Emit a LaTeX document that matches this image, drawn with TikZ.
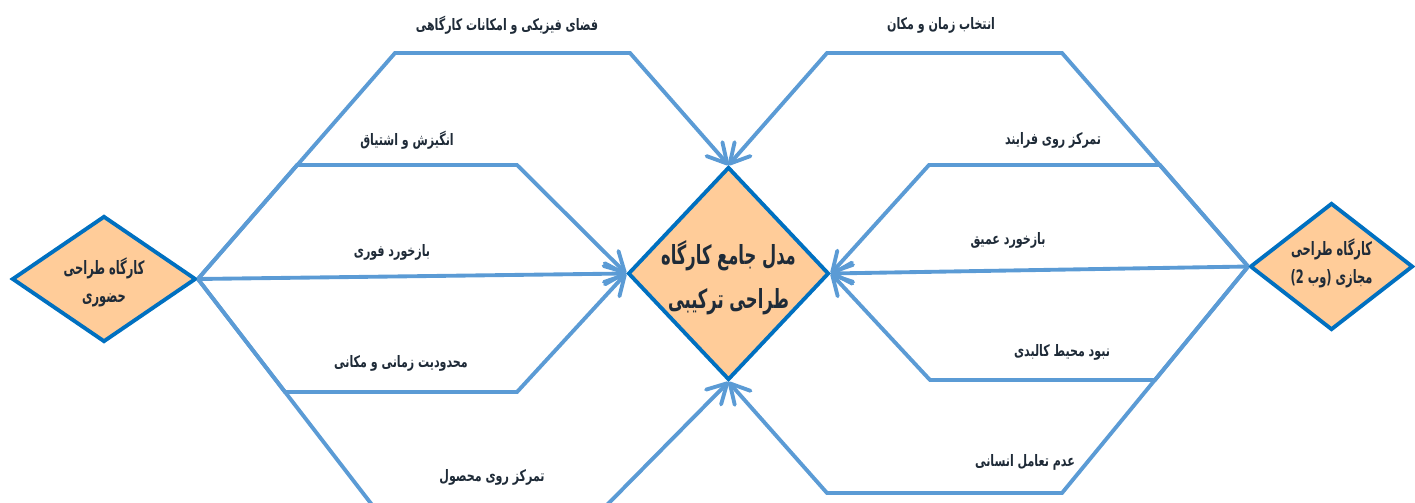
\documentclass[tikz,border=0pt]{standalone}
\usepackage{fontspec}
\newfontfamily\labelfont[Script=Arabic,FakeStretch=0.7]{DejaVu Sans}
\newfontfamily\boxfont[Script=Arabic,FakeStretch=0.62]{DejaVu Sans}
\newfontfamily\digitfont[FakeStretch=0.62]{DejaVu Sans}
\TeXXeTstate=1
\usetikzlibrary{shapes.geometric,arrows.meta}
\definecolor{linkblue}{HTML}{5B9BD5}
\definecolor{edgeblue}{HTML}{0070C0}
\definecolor{peach}{HTML}{FFCC99}
\definecolor{inkdark}{HTML}{1F2B38}
\begin{document}
\begin{tikzpicture}
  [x=0.02cm,y=-0.02cm,
   every node/.style={text=inkdark},
   lbl/.style={font=\labelfont\bfseries\fontsize{9}{11}\selectfont},
   box/.style={diamond,draw=edgeblue,fill=peach,line width=2.2pt,inner sep=-3pt,align=center,
     font=\boxfont\bfseries\fontsize{10.5}{16}\selectfont},
   link/.style={draw=linkblue,line width=2.2pt},
   tip/.style={-{Straight Barb[length=11pt,width=12pt,round]}}]
  \useasboundingbox (0,0) rectangle (1415,503);

  % diamonds
  \node[box,aspect=1.46,minimum width=3.68cm,minimum height=2.52cm] (d1) at (104,279)
    {\hbox{\rule{0pt}{13.6pt}\beginR کارگاه طراحی\endR}\\\hbox{\beginR حضوری\endR}};
  \node[box,aspect=0.94,minimum width=4.02cm,minimum height=4.26cm,
    font=\boxfont\bfseries\fontsize{15}{25}\selectfont] (d2) at (728.5,273.5)
    {\hbox{\rule{0pt}{18.4pt}\beginR مدل جامع کارگاه\endR}\\\hbox{\beginR طراحی ترکیبی\endR}};
  \node[box,aspect=1.28,minimum width=3.26cm,minimum height=2.54cm] (d3) at (1331.5,266.5)
    {\hbox{\beginR کارگاه طراحی\endR}\\
     \hbox{\rule[-6.5pt]{0pt}{1pt}{\digitfont(2}~\hbox{\beginR وب\endR}{\digitfont)}~\hbox{\beginR مجازی\endR}}};

  % bends of the connectors
  \coordinate (a1) at (395,53);  \coordinate (a2) at (630,53);
  \coordinate (b1) at (297,165); \coordinate (b2) at (517,165);
  \coordinate (c1) at (285,392); \coordinate (c2) at (517,392);
  \coordinate (e1) at (376,510); \coordinate (e2) at (602,510);
  \coordinate (f1) at (1062,53); \coordinate (f2) at (827,53);
  \coordinate (g1) at (1160,165); \coordinate (g2) at (929,165);
  \coordinate (h1) at (1155,380); \coordinate (h2) at (930,380);
  \coordinate (k1) at (1062,493); \coordinate (k2) at (827,493);

  % connectors
  \draw[link,tip] (d1.east) -- (a1) -- (a2) -- (d2.north);
  \draw[link,tip] (d1.east) -- (b1) -- (b2) -- (d2.west);
  \draw[link,tip] (d1.east) -- (d2.west);
  \draw[link,tip] (d1.east) -- (c1) -- (c2) -- (d2.west);
  \draw[link,tip] (d1.east) -- (e1) -- (e2) -- (d2.south);
  \draw[link,tip] (d3.west) -- (f1) -- (f2) -- (d2.north);
  \draw[link,tip] (d3.west) -- (g1) -- (g2) -- (d2.east);
  \draw[link,tip] (d3.west) -- (d2.east);
  \draw[link,tip] (d3.west) -- (h1) -- (h2) -- (d2.east);
  \draw[link,tip] (d3.west) -- (k1) -- (k2) -- (d2.south);

  % labels
  \node[lbl] (l1) at (507,25)  {\beginR فضای فیزیکی و امکانات کارگاهی\endR};
  \node[lbl] (l2) at (407,140) {\beginR انگیزش و اشتیاق\endR};
  \node[lbl] (l3) at (392,252) {\beginR بازخورد فوری\endR};
  \node[lbl] (l4) at (401,363) {\beginR محدودیت زمانی و مکانی\endR};
  \node[lbl] (l5) at (492,477) {\beginR تمرکز روی محصول\endR};
  \node[lbl] (r1) at (941,25)  {\beginR انتخاب زمان و مکان\endR};
  \node[lbl] (r2) at (1053,140) {\beginR تمرکز روی فرایند\endR};
  \node[lbl] (r3) at (1008,240) {\beginR بازخورد عمیق\endR};
  \node[lbl] (r4) at (1062,352) {\beginR نبود محیط کالبدی\endR};
  \node[lbl] (r5) at (1025,462) {\beginR عدم تعامل انسانی\endR};
\end{tikzpicture}
\end{document}
